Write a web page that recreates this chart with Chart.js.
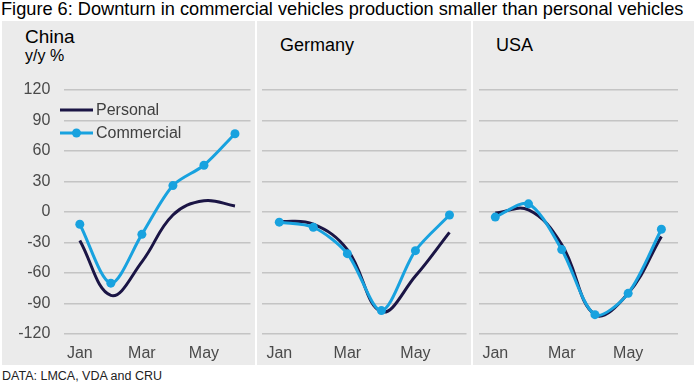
<!DOCTYPE html>
<html>
<head>
<meta charset="utf-8">
<script src="https://cdn.jsdelivr.net/npm/chart.js@4"></script>
<style>
  html, body { margin:0; padding:0; background:#ffffff; width:698px; height:385px; overflow:hidden; font-family:"Liberation Sans", Arial, sans-serif; }
  #bg { position:absolute; left:2px; top:21px; width:692px; height:344px; background:#ebebeb; }
  .sep { position:absolute; top:21px; width:2px; height:344px; background:#ffffff; }
  canvas { position:absolute; top:0; }
  .txt { position:absolute; white-space:nowrap; color:#000; }
</style>
</head>
<body>
<div id="bg"></div>
<div class="sep" style="left:255px"></div>
<div class="sep" style="left:471px"></div>
<div class="txt" style="left:1px; top:-1px; font-size:18.2px; line-height:20px;">Figure 6: Downturn in commercial vehicles production smaller than personal vehicles</div>
<div class="txt" style="left:25px; top:26px; font-size:19px; line-height:22px;">China</div>
<div class="txt" style="left:25px; top:47px; font-size:16px; line-height:18px;">y/y %</div>
<div class="txt" style="left:280px; top:35px; font-size:18px; line-height:20px;">Germany</div>
<div class="txt" style="left:496px; top:35px; font-size:18px; line-height:20px;">USA</div>
<div class="txt" style="left:2px; top:369px; font-size:12.5px; line-height:15px; color:#222;">DATA: LMCA, VDA and CRU</div>

<canvas id="c1" width="253" height="385" style="left:2px;width:253px;height:385px"></canvas>
<canvas id="c2" width="215" height="385" style="left:256px;width:215px;height:385px"></canvas>
<canvas id="c3" width="222" height="385" style="left:472px;width:222px;height:385px"></canvas>

<script>
// ---- data ----
const months = ['Jan','Feb','Mar','Apr','May','Jun'];
const tickLabels = ['Jan','','Mar','','May',''];
const yTickValues = [-120,-90,-60,-30,0,30,60,90,120];
const seriesNames = ['Personal','Commercial'];

const chinaPersonal     = [-28, -82, -49, -3, 11, 6];
const chinaCommercial   = [-12, -70, -22, 26, 46, 77];
const germanyPersonal   = [-9, -12, -37, -98, -63, -20];
const germanyCommercial = [-10, -15, -41, -97, -38, -3];
const usaPersonal       = [-1, 2, -32, -101, -80, -24];
const usaCommercial     = [-5, 8, -37, -101, -80, -17];

// ---- styles ----
const colPersonal = '#1b1545';
const colCommercial = '#18a2df';
const gridCol = '#c4c4c4';
const tickCol = '#4a4a4a';
const FONT = '"Liberation Sans", Arial, sans-serif';

function datasets(p, c) {
  return [
    { label: seriesNames[0], data: p, borderColor: colPersonal, backgroundColor: colPersonal,
      borderWidth: 3, pointRadius: 0, pointHoverRadius: 0, tension: 0.4, order: 2 },
    { label: seriesNames[1], data: c, borderColor: colCommercial, backgroundColor: colCommercial,
      borderWidth: 3, pointRadius: 4.5, pointBorderWidth: 0, tension: 0.3, order: 1 }
  ];
}

const legendPlugin = {
  id: 'innerLegend',
  afterDraw(chart) {
    if (!chart.options.plugins.innerLegend || !chart.options.plugins.innerLegend.show) return;
    const ctx = chart.ctx;
    const items = chart.data.datasets;
    const x0 = 58, x1 = 91, ys = [110, 133];
    ctx.save();
    items.forEach((ds, i) => {
      ctx.strokeStyle = ds.borderColor;
      ctx.lineWidth = 3;
      ctx.beginPath(); ctx.moveTo(x0, ys[i]); ctx.lineTo(x1, ys[i]); ctx.stroke();
      if (ds.pointRadius > 0) {
        ctx.fillStyle = ds.backgroundColor;
        ctx.beginPath(); ctx.arc((x0 + x1) / 2, ys[i], 4.5, 0, Math.PI * 2); ctx.fill();
      }
      ctx.fillStyle = '#404040';
      ctx.font = '16px ' + FONT;
      ctx.textBaseline = 'middle';
      ctx.fillText(ds.label, x1 + 3, ys[i] + 1);
    });
    ctx.restore();
  }
};

function makeChart(id, p, c, opts) {
  return new Chart(document.getElementById(id), {
    type: 'line',
    data: { labels: months, datasets: datasets(p, c) },
    plugins: [legendPlugin],
    options: {
      responsive: false,
      animation: false,
      events: [],
      layout: { padding: { top: 90, left: opts.padLeft, right: opts.padRight, bottom: 0 } },
      plugins: { legend: { display: false }, tooltip: { enabled: false },
                 innerLegend: { show: !!opts.legend } },
      scales: {
        x: {
          offset: true,
          grid: { display: false, drawTicks: false },
          border: { display: false },
          ticks: {
            autoSkip: false, maxRotation: 0, padding: 10, color: tickCol,
            font: { family: FONT, size: 16 },
            callback: (v, i) => tickLabels[i]
          },
          afterFit: s => { s.height = 51; }
        },
        y: {
          min: -120, max: 120,
          afterBuildTicks: s => { s.ticks = yTickValues.map(v => ({ value: v })); },
          grid: { color: gridCol, lineWidth: 1.5, drawTicks: false },
          border: { display: false },
          ticks: {
            display: !!opts.yLabels, padding: 14, color: tickCol,
            font: { family: FONT, size: 16 }
          },
          afterFit: s => { s.width = opts.yWidth; }
        }
      }
    }
  });
}

makeChart('c1', chinaPersonal, chinaCommercial, { padLeft: 0, padRight: 0.5, yWidth: 62.3, yLabels: true, legend: true });
makeChart('c2', germanyPersonal, germanyCommercial, { padLeft: 2.5, padRight: 2.5, yWidth: 0 });
makeChart('c3', usaPersonal, usaCommercial, { padLeft: 2, padRight: 16, yWidth: 0 });
</script>
</body>
</html>
